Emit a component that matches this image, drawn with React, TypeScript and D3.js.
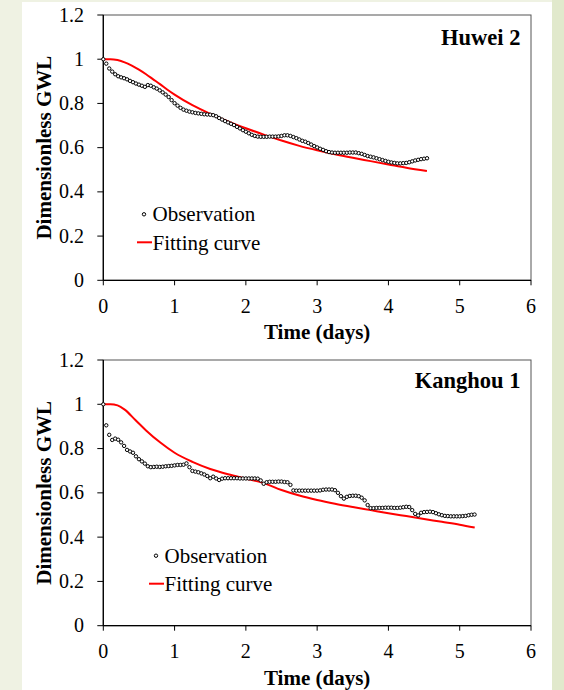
import React from "react";
import * as d3 from "d3";

// ---------- data ----------
const OBS_STEP_DAYS = 1 / 24; // hourly observations
const xTickValues = [0, 1, 2, 3, 4, 5, 6];
const yTickValues = [0, 0.2, 0.4, 0.6, 0.8, 1, 1.2];
const yTickLabels = ["0", "0.2", "0.4", "0.6", "0.8", "1", "1.2"];
const xAxisTitle = "Time (days)";
const yAxisTitle = "Dimensionless GWL";
const legendLabels = ["Observation", "Fitting curve"];

const huweiName = "Huwei 2";
const huweiObs = [
  1.0, 0.98, 0.958, 0.944, 0.932, 0.923, 0.918, 0.914, 0.909, 0.902,
  0.896, 0.89, 0.885, 0.88, 0.875, 0.883, 0.88, 0.873, 0.867, 0.859,
  0.85, 0.84, 0.829, 0.815, 0.801, 0.79, 0.78, 0.772, 0.767, 0.763,
  0.76, 0.757, 0.755, 0.753, 0.751, 0.75, 0.749, 0.747, 0.742, 0.734,
  0.727, 0.72, 0.714, 0.708, 0.702, 0.694, 0.687, 0.679, 0.672, 0.665,
  0.658, 0.653, 0.65, 0.649, 0.649, 0.649, 0.65, 0.65, 0.65, 0.651,
  0.653, 0.656, 0.656, 0.653, 0.648, 0.643, 0.637, 0.631, 0.627, 0.621,
  0.614, 0.607, 0.601, 0.595, 0.59, 0.584, 0.58, 0.578, 0.577, 0.577,
  0.577, 0.577, 0.577, 0.578, 0.578, 0.578, 0.575, 0.572, 0.567, 0.562,
  0.559, 0.556, 0.552, 0.548, 0.544, 0.54, 0.536, 0.533, 0.531, 0.529,
  0.529, 0.53, 0.531, 0.534, 0.538, 0.542, 0.545, 0.548, 0.55, 0.552,
];
const huweiFitT = [0, 0.1, 0.2, 0.3, 0.4, 0.5, 0.6, 0.7, 0.8, 0.9, 1.0, 1.25, 1.5, 1.75, 2.0, 2.25, 2.5, 2.75, 3.0, 3.25, 3.5, 3.75, 4.0, 4.25, 4.54];
const huweiFitV = [1.0, 1.0, 0.996, 0.986, 0.971, 0.953, 0.932, 0.909, 0.886, 0.862, 0.84, 0.792, 0.753, 0.719, 0.688, 0.659, 0.632, 0.608, 0.588, 0.57, 0.554, 0.539, 0.524, 0.509, 0.494];

const kanghouName = "Kanghou 1";
const kanghouObs = [
  1.0, 0.905, 0.862, 0.839, 0.845, 0.84, 0.828, 0.812, 0.794, 0.787,
  0.781, 0.765, 0.752, 0.742, 0.732, 0.72, 0.716, 0.717, 0.718, 0.717,
  0.718, 0.72, 0.721, 0.722, 0.724, 0.726, 0.726, 0.727, 0.733, 0.716,
  0.699, 0.696, 0.693, 0.688, 0.683, 0.676, 0.666, 0.673, 0.665, 0.658,
  0.664, 0.666, 0.666, 0.666, 0.666, 0.666, 0.665, 0.665, 0.665, 0.665,
  0.665, 0.665, 0.664, 0.656, 0.641, 0.648, 0.65, 0.65, 0.65, 0.651,
  0.651, 0.649, 0.648, 0.636, 0.611, 0.61, 0.61, 0.61, 0.61, 0.61,
  0.61, 0.61, 0.61, 0.611, 0.614, 0.615, 0.615, 0.615, 0.612, 0.6,
  0.585, 0.574, 0.582, 0.586, 0.587, 0.587, 0.585, 0.578, 0.566, 0.545,
  0.531, 0.531, 0.532, 0.532, 0.532, 0.533, 0.533, 0.533, 0.532, 0.532,
  0.533, 0.535, 0.537, 0.536, 0.522, 0.505, 0.498, 0.51, 0.513, 0.514,
  0.515, 0.513, 0.508, 0.503, 0.499, 0.496, 0.495, 0.494, 0.494, 0.494,
  0.494, 0.495, 0.496, 0.499, 0.501, 0.502,
];
const kanghouFitT = [0, 0.1, 0.2, 0.3, 0.45, 0.6, 0.8, 1.0, 1.25, 1.5, 1.75, 2.0, 2.25, 2.5, 2.75, 3.0, 3.25, 3.5, 3.75, 4.0, 4.25, 4.5, 4.75, 5.0, 5.21];
const kanghouFitV = [1.0, 1.0, 0.995, 0.976, 0.929, 0.882, 0.827, 0.781, 0.74, 0.708, 0.684, 0.664, 0.644, 0.613, 0.588, 0.568, 0.551, 0.536, 0.522, 0.508, 0.495, 0.482, 0.469, 0.456, 0.443];

// ---------- layout ----------
const W = 564;
const H = 690;
const FONT = "'Liberation Serif', 'Times New Roman', serif";
const PLOT_LEFT = 103.3;
const PLOT_RIGHT = 531;

type PanelProps = {
  name: string;
  obs: number[];
  fitT: number[];
  fitV: number[];
  top: number;
  bottom: number;
  nameDy: number;
  legX: number;
  legDy: number;
};

function Panel({ name, obs, fitT, fitV, top, bottom, nameDy, legX, legDy }: PanelProps) {
  const x = d3.scaleLinear().domain([0, 6]).range([PLOT_LEFT, PLOT_RIGHT]);
  const y = d3.scaleLinear().domain([0, 1.2]).range([bottom, top]);
  const fitPts: [number, number][] = fitT.map((t, i) => [t, fitV[i]]);
  const line = d3
    .line<[number, number]>()
    .x((d) => x(d[0]))
    .y((d) => y(d[1]))
    .curve(d3.curveMonotoneX);
  const midY = (top + bottom) / 2;
  const midX = (PLOT_LEFT + PLOT_RIGHT) / 2;
  return (
    <g fontFamily={FONT}>
      <rect
        x={PLOT_LEFT}
        y={top}
        width={PLOT_RIGHT - PLOT_LEFT}
        height={bottom - top}
        fill="none"
        stroke="#555"
        strokeWidth={1}
      />
      <line x1={PLOT_LEFT} x2={PLOT_LEFT} y1={top} y2={bottom} stroke="#000" strokeWidth={1.3} />
      <line x1={PLOT_LEFT} x2={PLOT_RIGHT} y1={bottom} y2={bottom} stroke="#000" strokeWidth={1.3} />
      {yTickValues.map((v, i) => (
        <g key={"y" + i}>
          <line x1={PLOT_LEFT - 6} x2={PLOT_LEFT} y1={y(v)} y2={y(v)} stroke="#000" strokeWidth={1} />
          <text x={84} y={y(v) + 6.6} textAnchor="end" fontSize={20} fill="#000">
            {yTickLabels[i]}
          </text>
        </g>
      ))}
      {xTickValues.map((v) => (
        <g key={"x" + v}>
          <line x1={x(v)} x2={x(v)} y1={bottom} y2={bottom + 5} stroke="#000" strokeWidth={1} />
          <text x={x(v)} y={bottom + 32.3} textAnchor="middle" fontSize={20} fill="#000">
            {v}
          </text>
        </g>
      ))}
      <text x={midX} y={bottom + 59} textAnchor="middle" fontSize={21} fontWeight="bold" fill="#000">
        {xAxisTitle}
      </text>
      <text
        transform={`translate(50.5, ${midY}) rotate(-90)`}
        textAnchor="middle"
        fontSize={21}
        fontWeight="bold"
        fill="#000"
      >
        {yAxisTitle}
      </text>
      <text x={520.5} y={top + nameDy} textAnchor="end" fontSize={22.5} fontWeight="bold" fill="#000">
        {name}
      </text>
      <path d={line(fitPts) || ""} fill="none" stroke="#ff0000" strokeWidth={2} />
      {obs.map((v, i) => (
        <circle
          key={"o" + i}
          cx={x(i * OBS_STEP_DAYS)}
          cy={y(v)}
          r={1.7}
          fill="#fff"
          stroke="#000"
          strokeWidth={1}
        />
      ))}
      <circle cx={legX} cy={top + legDy} r={1.7} fill="#fff" stroke="#000" strokeWidth={1} />
      <text x={legX + 8.5} y={top + legDy + 7} fontSize={21} fill="#000">
        {legendLabels[0]}
      </text>
      <line
        x1={legX - 7}
        x2={legX + 8}
        y1={top + legDy + 28}
        y2={top + legDy + 28}
        stroke="#ff0000"
        strokeWidth={2}
      />
      <text x={legX + 8.5} y={top + legDy + 35.5} fontSize={21} fill="#000">
        {legendLabels[1]}
      </text>
    </g>
  );
}

export default function App() {
  return (
    <svg
      width={W}
      height={H}
      viewBox={`0 0 ${W} ${H}`}
      style={{ position: "absolute", left: 0, top: 0, display: "block" }}
    >
      <rect x={0} y={0} width={W} height={H} fill="#ffffff" />
      <rect x={0} y={0} width={22} height={H} fill="#eff2e3" />
      <rect x={0} y={0} width={W} height={2} fill="#eff2e3" />
      <rect x={552} y={0} width={12} height={H} fill="#e1e9cc" />
      <Panel
        name={huweiName}
        obs={huweiObs}
        fitT={huweiFitT}
        fitV={huweiFitV}
        top={15}
        bottom={280.3}
        nameDy={30}
        legX={144}
        legDy={199.3}
      />
      <Panel
        name={kanghouName}
        obs={kanghouObs}
        fitT={kanghouFitT}
        fitV={kanghouFitV}
        top={360}
        bottom={625.7}
        nameDy={27.7}
        legX={156}
        legDy={195.7}
      />
    </svg>
  );
}
